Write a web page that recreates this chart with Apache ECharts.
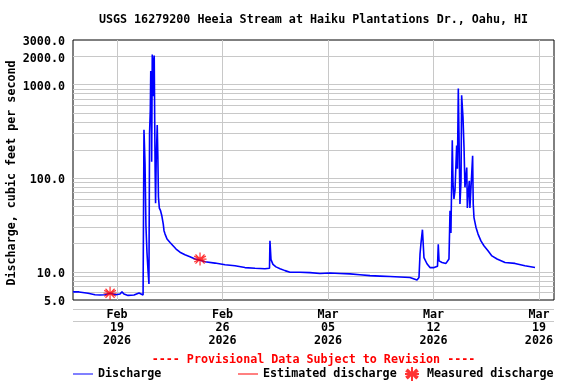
<!DOCTYPE html>
<html><head><meta charset="utf-8">
<script src="https://cdn.jsdelivr.net/npm/echarts@6/dist/echarts.min.js"></script>
<style>html,body{margin:0;padding:0;background:#fff}#c{width:576px;height:384px}</style>
</head><body><div id="c"></div>
<script>
const FONT = "'DejaVu Sans Mono', monospace";
const FS = 11.7;
const chartTitle = 'USGS 16279200 Heeia Stream at Haiku Plantations Dr., Oahu, HI';
const yAxisTitle = 'Discharge, cubic feet per second';
const provisionalNote = '---- Provisional Data Subject to Revision ----';

// x values: days since 2026-02-16 00:00
const tickDays = [3, 10, 17, 24, 31];
const tickLabels = ['Feb\n19\n2026', 'Feb\n26\n2026', 'Mar\n05\n2026', 'Mar\n12\n2026', 'Mar\n19\n2026'];
const yLabelValues = [5, 10, 100, 1000, 2000, 3000];
const yGridValues = [6, 7, 8, 9, 10, 20, 30, 40, 50, 60, 70, 80, 90, 100, 200, 300, 400, 500, 600, 700, 800, 900, 1000, 2000];

const dischargeDays = [
  0.08, 0.48, 0.55, 1.08, 1.54, 1.87, 2.20, 2.54, 2.93, 3.20, 3.33, 3.46, 3.73, 4.13, 4.46, 4.59, 4.73,
  4.79, 4.86, 4.92, 4.99, 5.06, 5.12, 5.16, 5.21, 5.24, 5.28, 5.30, 5.34, 5.38, 5.41, 5.44, 5.47, 5.50,
  5.53, 5.56, 5.60, 5.67, 5.71, 5.75, 5.81, 5.89, 5.97, 6.07, 6.12, 6.19, 6.32, 6.52, 6.72, 6.92, 7.18,
  7.51, 7.84, 8.18, 8.51, 8.84, 9.50, 10.17, 10.83, 11.49, 12.16, 12.82, 13.12, 13.15, 13.22, 13.35, 13.55,
  13.82, 14.15, 14.48, 15.14, 15.81, 16.47, 17.13, 17.80, 18.46, 19.12, 19.79, 20.45, 21.12, 21.78, 22.44,
  22.91, 23.04, 23.11, 23.17, 23.27, 23.37, 23.57, 23.77, 24.04, 24.17, 24.27, 24.32, 24.37, 24.57, 24.83,
  25.03, 25.10, 25.16, 25.25, 25.30, 25.36, 25.43, 25.54, 25.59, 25.65, 25.69, 25.76, 25.83, 25.87, 25.96,
  26.03, 26.09, 26.21, 26.25, 26.29, 26.38, 26.42, 26.60, 26.64, 26.69, 26.82, 26.96, 27.15, 27.35, 27.62,
  27.88, 28.22, 28.75, 29.41, 30.07, 30.74
];
const dischargeValues = [
  6.1, 6.1, 5.85, 5.9, 5.7, 5.65, 5.7, 5.9, 5.7, 5.8, 6.1, 5.8, 5.6, 5.65, 5.95, 5.7, 5.65,
  330, 143, 31, 16, 10.2, 7.4, 300, 540, 1400, 1000, 150, 2100, 1500, 750, 1700, 2050, 450,
  120, 54, 150, 370, 176, 63, 48, 45, 40, 32.4, 27.5, 25.3, 22.4, 20.6, 19, 17.5, 16.2,
  15.2, 14.5, 13.7, 13.3, 12.8, 12.4, 11.9, 11.6, 11.1, 10.9, 10.8, 10.9, 21.5, 13.5, 12.0, 11.3,
  10.8, 10.3, 9.9, 9.9, 9.8, 9.6, 9.7, 9.6, 9.5, 9.3, 9.1, 9.0, 8.9, 8.8, 8.7,
  8.2, 8.7, 15.6, 20, 28.2, 14.2, 12.2, 11.1, 11.1, 10.7, 11.5, 19.7, 13.1, 12.6, 12.3,
  13.7, 45, 26, 255, 87, 60, 74, 224, 126, 912, 326, 53, 94, 770, 452,
  210, 80, 130, 48, 62, 94, 48, 174, 53, 38, 30, 25.3, 21.4, 19, 16.8,
  14.8, 13.7, 12.6, 12.3, 11.6, 11.1
];
const measuredDays = [2.54, 8.51];
const measuredValues = [5.9, 13.7];

const ASTERISK = 'path://M0,10 L20,10 M10,0 L10,20 M3,3 L17,17 M17,3 L3,17 M1,5.5 L19,14.5 M19,5.5 L1,14.5';

const labelSet = new Set(yLabelValues);
const yLineValues = Array.from(new Set(yGridValues.concat(yLabelValues))).sort((a, b) => a - b);
const gridMarks = yLineValues.map(v => ({
  yAxis: v,
  lineStyle: { color: (v === 5 || v === 3000) ? 'rgba(0,0,0,0)' : '#c8c8c8' },
  label: labelSet.has(v)
    ? { show: true, position: 'start', distance: 8, offset: [0, 2], formatter: v.toFixed(1), color: '#000', fontFamily: FONT, fontWeight: 'bold', fontSize: FS }
    : { show: false }
})).concat(tickDays.map(d => ({ xAxis: d, label: { show: false }, lineStyle: { color: '#c8c8c8' } })));

const legendText = { fontFamily: FONT, fontWeight: 'bold', fontSize: FS, color: '#000' };

const chart = echarts.init(document.getElementById('c'), null, { renderer: 'canvas' });
chart.setOption({
  animation: false,
  backgroundColor: '#fff',
  title: [
    { text: chartTitle, left: 313.5, top: 14, textAlign: 'center', padding: 0,
      textStyle: { fontFamily: FONT, fontWeight: 'bold', fontSize: FS, color: '#000' } },
    { text: provisionalNote, left: 313.5, top: 354, textAlign: 'center', padding: 0,
      textStyle: { fontFamily: FONT, fontWeight: 'bold', fontSize: FS, color: '#ff0000' } }
  ],
  grid: { left: 73, right: 22, top: 40, bottom: 84, show: true, borderColor: '#000', borderWidth: 1, backgroundColor: 'transparent' },
  xAxis: {
    type: 'value', min: 0.08, max: 32,
    axisLine: { show: false }, axisTick: { show: false }, splitLine: { show: false },
    axisLabel: {
      customValues: tickDays, margin: 8,
      formatter: v => { const i = tickDays.indexOf(Math.round(v)); return i >= 0 ? tickLabels[i] : ''; },
      fontFamily: FONT, fontWeight: 'bold', fontSize: FS, color: '#000', lineHeight: 13
    }
  },
  yAxis: {
    type: 'log', logBase: 10, min: 5, max: 3000,
    axisLine: { show: false }, axisTick: { show: false }, splitLine: { show: false }, axisLabel: { show: false }
  },
  legend: [
    { data: ['Discharge'], left: 73, top: 368, padding: 0, icon: 'rect', itemWidth: 20, itemHeight: 1, itemGap: 0,
      textStyle: legendText },
    { data: ['Estimated discharge'], left: 238, top: 368, padding: 0, icon: 'rect', itemWidth: 20, itemHeight: 1, itemGap: 0,
      textStyle: legendText },
    { data: ['Measured discharge'], left: 404, top: 366, padding: 0, itemWidth: 14, itemHeight: 14, itemGap: 0,
      textStyle: Object.assign({ padding: [0, 0, 0, 3] }, legendText) }
  ],
  graphic: [
    { type: 'text', x: 12, y: 173, rotation: Math.PI / 2,
      style: { text: yAxisTitle, fill: '#000', font: "bold 11.7px 'DejaVu Sans Mono', monospace", textAlign: 'center', textVerticalAlign: 'middle' } },
    { type: 'line', shape: { x1: 73, y1: 309.5, x2: 554, y2: 309.5 }, style: { stroke: '#c8c8c8', lineWidth: 1 } },
    { type: 'line', shape: { x1: 73, y1: 321.5, x2: 554, y2: 321.5 }, style: { stroke: '#c8c8c8', lineWidth: 1 } }
  ],
  series: [
    {
      name: 'Discharge', type: 'line', z: 3, symbol: 'none', color: '#0000ff',
      lineStyle: { color: '#0000ff', width: 1.6 },
      data: dischargeDays.map((d, i) => [d, dischargeValues[i]]),
      markLine: { silent: true, z: 1, symbol: ['none', 'none'], animation: false,
        lineStyle: { type: 'solid', width: 1, color: '#c8c8c8' },
        data: gridMarks }
    },
    { name: 'Estimated discharge', type: 'line', symbol: 'none', color: '#ff0000', lineStyle: { color: '#ff0000', width: 1 }, data: [] },
    {
      name: 'Measured discharge', type: 'scatter', z: 4, symbol: ASTERISK, symbolSize: 13, color: '#ff0000',
      itemStyle: { color: 'rgba(0,0,0,0)', borderColor: '#ff0000', borderWidth: 1.2 },
      data: measuredDays.map((d, i) => [d, measuredValues[i]])
    }
  ]
});
</script></body></html>
